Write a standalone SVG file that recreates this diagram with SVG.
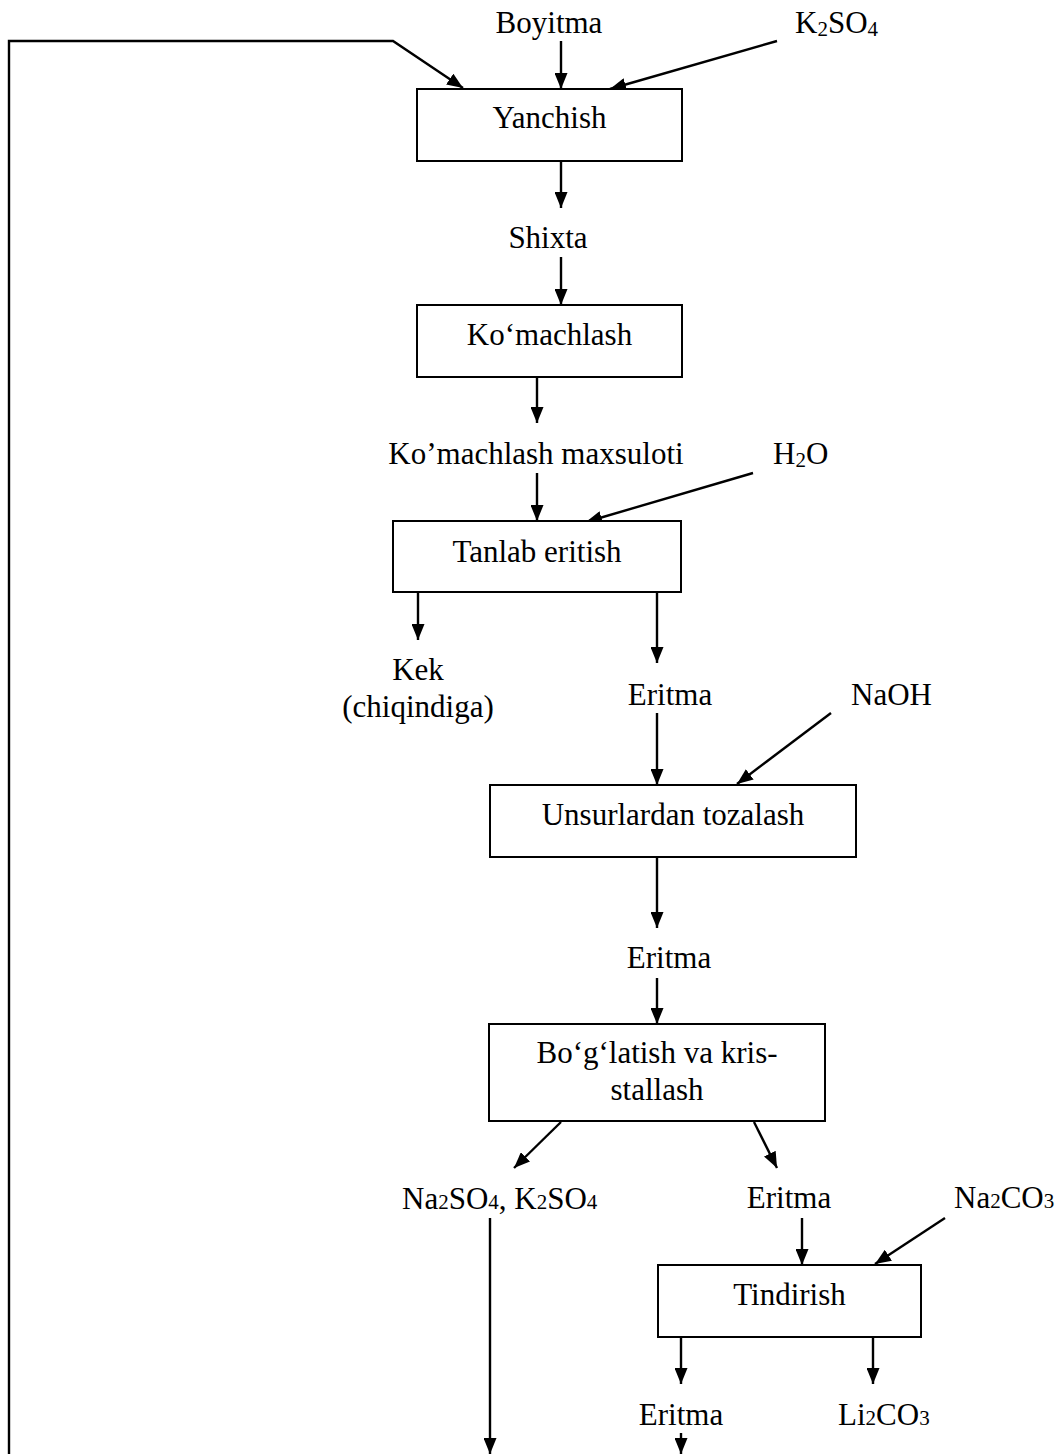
<svg xmlns="http://www.w3.org/2000/svg" width="1063" height="1454" viewBox="0 0 1063 1454">
<style>
.box{fill:#fff;stroke:#000;stroke-width:2}
.t{font-family:"Liberation Serif","Times New Roman",serif;font-size:31px;fill:#000}
.m{text-anchor:middle}
.sub{font-size:21px}
.c line,.c polyline{stroke:#000;stroke-width:2.4;fill:none;marker-end:url(#ah)}
</style>
<defs>
<marker id="ah" markerUnits="userSpaceOnUse" viewBox="0 0 16 13" markerWidth="16" markerHeight="13" refX="16" refY="6.5" orient="auto">
<path d="M0,0 L16,6.5 L0,13 Z" fill="#000"/>
</marker>
</defs>
<rect width="1063" height="1454" fill="#fff"/>
<g id="connectors" class="c">
<polyline points="9,1454 9,41 393,41 463,88"/>
<line x1="561" y1="41" x2="561" y2="89"/>
<line x1="777" y1="41" x2="610" y2="89"/>
<line x1="561" y1="161" x2="561" y2="208"/>
<line x1="561" y1="257" x2="561" y2="305"/>
<line x1="537" y1="377" x2="537" y2="423"/>
<line x1="537" y1="473" x2="537" y2="521"/>
<line x1="753" y1="473" x2="586" y2="522"/>
<line x1="418" y1="592" x2="418" y2="640"/>
<line x1="657" y1="592" x2="657" y2="663"/>
<line x1="657" y1="713" x2="657" y2="785"/>
<line x1="831" y1="713" x2="737" y2="784"/>
<line x1="657" y1="857" x2="657" y2="928"/>
<line x1="657" y1="978" x2="657" y2="1024"/>
<line x1="561" y1="1122" x2="514" y2="1168"/>
<line x1="754" y1="1122" x2="777" y2="1168"/>
<line x1="490" y1="1218" x2="490" y2="1454"/>
<line x1="802" y1="1218" x2="802" y2="1265"/>
<line x1="945" y1="1218" x2="875" y2="1264"/>
<line x1="681" y1="1337" x2="681" y2="1384"/>
<line x1="873" y1="1337" x2="873" y2="1384"/>
<line x1="681" y1="1433" x2="681" y2="1454"/>
</g>
<g id="yanchish"><rect class="box" x="417" y="89" width="265" height="72"/><text class="t m" x="549.5" y="128">Yanchish</text></g>
<g id="komachlash"><rect class="box" x="417" y="305" width="265" height="72"/><text class="t m" x="549.5" y="345">Ko‘machlash</text></g>
<g id="tanlab"><rect class="box" x="393" y="521" width="288" height="71"/><text class="t m" x="537" y="562">Tanlab eritish</text></g>
<g id="unsur"><rect class="box" x="490" y="785" width="366" height="72"/><text class="t m" x="673" y="825">Unsurlardan tozalash</text></g>
<g id="boglatish"><rect class="box" x="489" y="1024" width="336" height="97"/><text class="t m" x="657" y="1063">Bo‘g‘latish va kris-</text><text class="t m" x="657" y="1100">stallash</text></g>
<g id="tindirish"><rect class="box" x="658" y="1265" width="263" height="72"/><text class="t m" x="789.5" y="1305">Tindirish</text></g>
<g id="labels">
<text class="t m" x="549" y="33">Boyitma</text>
<text class="t" x="795" y="33">K<tspan class="sub" dy="3">2</tspan><tspan dy="-3">SO</tspan><tspan class="sub" dy="3">4</tspan></text>
<text class="t m" x="548" y="248">Shixta</text>
<text class="t m" x="536" y="464">Ko’machlash maxsuloti</text>
<text class="t" x="773" y="464">H<tspan class="sub" dy="3">2</tspan><tspan dy="-3">O</tspan></text>
<text class="t m" x="418" y="680">Kek</text>
<text class="t m" x="418" y="717">(chiqindiga)</text>
<text class="t m" x="670" y="705">Eritma</text>
<text class="t" x="851" y="705">NaOH</text>
<text class="t m" x="669" y="968">Eritma</text>
<text class="t" x="402" y="1209">Na<tspan class="sub">2</tspan>SO<tspan class="sub">4</tspan>, K<tspan class="sub">2</tspan>SO<tspan class="sub">4</tspan></text>
<text class="t m" x="789" y="1208">Eritma</text>
<text class="t" x="954" y="1208">Na<tspan class="sub">2</tspan>CO<tspan class="sub">3</tspan></text>
<text class="t m" x="681" y="1425">Eritma</text>
<text class="t" x="838" y="1425">Li<tspan class="sub">2</tspan>CO<tspan class="sub">3</tspan></text>
</g>
</svg>
